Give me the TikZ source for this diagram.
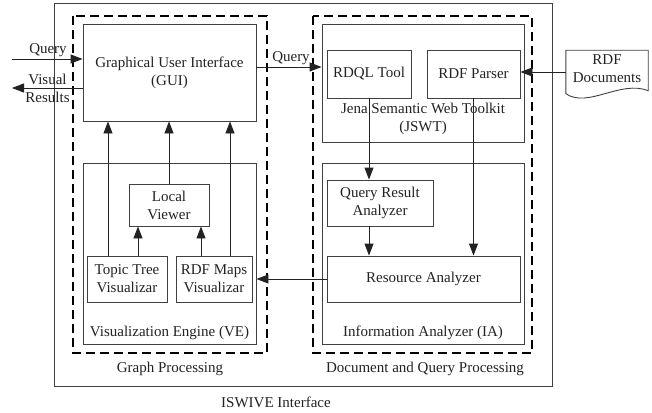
\documentclass[tikz,border=0pt]{standalone}
\usepackage{fontspec}
\setmainfont{Liberation Serif}
\usetikzlibrary{arrows.meta,calc}
\definecolor{ink}{HTML}{222222}
\definecolor{frame}{HTML}{404040}
\begin{document}
\begin{tikzpicture}[x=1pt,y=-1pt,
  every node/.style={font=\fontsize{15}{18}\selectfont, text=ink, align=center, inner sep=0pt},
  box/.style={draw=frame, line width=0.9pt},
  grp/.style={draw=black, line width=2pt, dash pattern=on 9pt off 5pt},
  arr/.style={draw=ink, line width=0.9pt, -{Triangle[length=12pt,width=9pt]}}]
\useasboundingbox (0,0) rectangle (652,412);

% outer interface frame and the two processing groups
\draw[draw=frame, line width=0.9pt] (54,3) rectangle (552,386);
\draw[grp] (73,16) rectangle (267,353);
\draw[grp] (313,16) rectangle (532,353);

% graph processing side
\node[box, minimum width=173, minimum height=97] (gui) at (169.5,72.5) {Graphical User Interface\\(GUI)};
\node[box, minimum width=173, minimum height=181] (ve) at (169.5,253.5) {};
\node (velbl) at (169.5,333) {Visualization Engine (VE)};
\node[box, minimum width=80, minimum height=42] (lv) at (169,205) {Local\\Viewer};
\node[box, minimum width=80, minimum height=46] (tt) at (127,279) {Topic Tree\\Visualizar};
\node[box, minimum width=76, minimum height=46] (rm) at (214,279) {RDF Maps\\Visualizar};

% document and query processing side
\node[box, minimum width=202, minimum height=118] (jswt) at (423,83) {};
\node (jswtlbl) at (423,119) {Jena Semantic Web Toolkit\\(JSWT)};
\node[box, minimum width=84, minimum height=48] (rdql) at (369,74) {RDQL Tool};
\node[box, minimum width=93, minimum height=48] (parser) at (473.5,74) {RDF Parser};
\node[box, minimum width=202, minimum height=181] (ia) at (423,253.5) {};
\node (ialbl) at (423,333) {Information Analyzer (IA)};
\node[box, minimum width=106, minimum height=46] (qra) at (380,203) {Query Result\\Analyzer};
\node[box, minimum width=193, minimum height=46] (ra) at (423.5,279) {Resource Analyzer};

% group captions
\node (gp) at (170,369) {Graph Processing};
\node (dqp) at (425,369) {Document and Query Processing};
\node (iswive) at (276,402) {ISWIVE Interface};

% RDF document source
\node[minimum width=82, minimum height=43] (doc) at (607,72) {};
\draw[box] (doc.north west) -- (doc.north east) -- ($(doc.south east)+(0,-3)$)
  .. controls ($(doc.south east)+(-28,-14)$) and ($(doc.south west)+(22,15)$) .. (doc.south west) -- cycle;
\node (doclbl) at (607,69) {RDF\\Documents};

% external query and results
\coordinate (qin) at (12,59);
\coordinate (vout) at (12,88);
\draw[arr] (qin) -- (qin -| gui.west);
\draw[arr] (vout -| gui.west) -- (vout);
\node (qlbl) at (48,50) {Query};
\node (vlbl) at (47.5,88) {Visual\\Results};

% query passed to the toolkit
\draw[arr] ([yshift=5.5pt]gui.east) -- ([yshift=5.5pt]gui.east -| jswt.west);
\node (q2lbl) at (291,58) {Query};

% visualizers feed the GUI
\draw[arr] ([xshift=-19pt]tt.north) -- ([xshift=-19pt]tt.north |- gui.south);
\draw[arr] (lv.north) -- (lv.north |- gui.south);
\draw[arr] ([xshift=16pt]rm.north) -- ([xshift=16pt]rm.north |- gui.south);
\draw[arr] ([xshift=11pt]tt.north) -- ([xshift=11pt]tt.north |- lv.south);
\draw[arr] ([xshift=-13pt]rm.north) -- ([xshift=-13pt]rm.north |- lv.south);

% analysis chain
\draw[arr] (rdql.south) -- (rdql.south |- qra.north);
\draw[arr] (rdql.south |- qra.south) -- (rdql.south |- ra.north);
\draw[arr] (parser.south) -- (parser.south |- ra.north);
\draw[arr] (ra.west) -- (ra.west -| ve.east);
\draw[arr] (doc.west) -- (doc.west -| parser.east);
\end{tikzpicture}
\end{document}
